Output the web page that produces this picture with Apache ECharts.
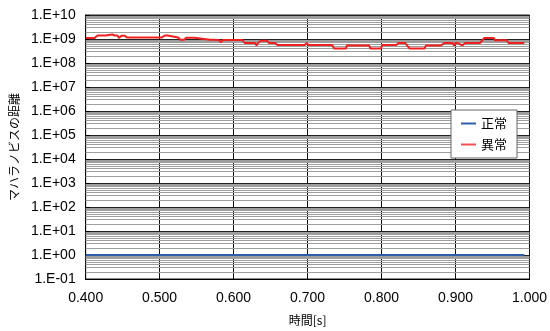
<!DOCTYPE html>
<html>
<head>
<meta charset="utf-8">
<script src="https://cdn.jsdelivr.net/npm/echarts@6/dist/echarts.min.js"></script>
<style>
  html, body { margin: 0; padding: 0; background: #fff; }
  #chart { width: 550px; height: 331px; }
</style>
</head>
<body>
<div id="chart"></div>
<script>
// 時間 [s] と マハラノビスの距離
const abnormalTime = [
  0.400, 0.412, 0.416, 0.427, 0.429, 0.436, 0.439, 0.443, 0.445, 0.448,
  0.453, 0.456, 0.499, 0.503, 0.507, 0.511, 0.513, 0.525, 0.528, 0.533,
  0.536, 0.547, 0.549, 0.568, 0.569, 0.571, 0.580, 0.583, 0.585, 0.612,
  0.615, 0.629, 0.631, 0.633, 0.637, 0.645, 0.648, 0.656, 0.659, 0.696,
  0.699, 0.701, 0.733, 0.736, 0.752, 0.753, 0.768, 0.769, 0.771, 0.783,
  0.785, 0.799, 0.801, 0.820, 0.823, 0.832, 0.838, 0.858, 0.860, 0.880,
  0.885, 0.896, 0.898, 0.900, 0.903, 0.909, 0.913, 0.933, 0.939, 0.952,
  0.953, 0.969, 0.972, 0.993
];
const abnormalValue = [
  1.1e9, 1.1e9, 1.4e9, 1.4e9, 1.55e9, 1.55e9, 1.4e9, 1.4e9, 1.1e9, 1.35e9,
  1.35e9, 1.16e9, 1.16e9, 1.16e9, 1.4e9, 1.4e9, 1.16e9, 1.16e9, 9.3e8, 9.3e8,
  1.12e9, 1.12e9, 9.3e8, 9.3e8, 1.1e9, 9.3e8, 9.1e8, 7.2e8, 9.1e8, 9.1e8,
  6.8e8, 6.8e8, 5.4e8, 6.8e8, 8.5e8, 8.5e8, 6.8e8, 6.8e8, 5.6e8, 5.6e8,
  6.8e8, 5.6e8, 5.6e8, 4.0e8, 4.0e8, 5.4e8, 5.4e8, 4.8e8, 5.4e8, 5.4e8,
  4.0e8, 4.0e8, 5.6e8, 5.6e8, 6.8e8, 6.8e8, 4.0e8, 4.0e8, 5.3e8, 5.3e8,
  6.8e8, 6.8e8, 5.4e8, 6.8e8, 6.8e8, 5.4e8, 6.8e8, 6.8e8, 1.1e9, 1.1e9,
  8.9e8, 8.9e8, 6.8e8, 6.8e8
];
const normalTime = [0.400, 0.500, 0.600, 0.700, 0.800, 0.900, 0.993];
const normalValue = [1.0, 1.0, 1.0, 1.0, 1.0, 1.0, 1.0];

const xTicks = { min: 0.4, max: 1.0, step: 0.1 };
const yDecades = { min: -1, max: 10 };
const minorFactors = [2, 3, 4, 5, 6, 7, 8, 9];

const FONT = '"Liberation Sans", Arial, sans-serif';
const JFONT = '"Noto Sans CJK JP", "Liberation Sans", sans-serif';

function pairs(t, v) { return t.map((x, i) => [x, v[i]]); }

function expLabel(v) {
  const e = Math.round(Math.log10(v));
  const s = e < 0 ? '-' : '+';
  const a = Math.abs(e);
  return '1.E' + s + (a < 10 ? '0' + a : '' + a);
}

// minor log gridlines at 2..9 × 10^n
const minorLines = [];
for (let n = yDecades.min; n < yDecades.max; n++) {
  minorFactors.forEach(k => minorLines.push({ yAxis: k * Math.pow(10, n) }));
}

const chart = echarts.init(document.getElementById('chart'), null, { renderer: 'canvas' });
chart.setOption({
  animation: false,
  backgroundColor: '#ffffff',
  grid: { left: 83, right: 17, top: 15, bottom: 49, show: true, borderColor: '#222', borderWidth: 1, backgroundColor: '#fff' },
  legend: {
    z: 20,
    orient: 'vertical',
    left: 451, top: 110,
    width: 66,
    padding: [7, 10, 7, 10],
    itemGap: 8,
    itemWidth: 15, itemHeight: 2,
    icon: 'rect',
    backgroundColor: '#fff',
    borderColor: '#666', borderWidth: 1,
    textStyle: { fontFamily: JFONT, fontSize: 13, color: '#000', lineHeight: 12 },
    data: ['正常', '異常']
  },
  xAxis: {
    type: 'value',
    min: xTicks.min, max: xTicks.max, interval: xTicks.step,
    name: '時間[s]',
    nameLocation: 'middle', nameGap: 35,
    nameTextStyle: { fontFamily: JFONT, fontSize: 12, color: '#000' },
    axisLine: { lineStyle: { color: '#000', width: 1 } },
    axisTick: { show: false },
    axisLabel: { fontFamily: FONT, fontSize: 14, color: '#000', margin: 12, formatter: v => v.toFixed(3) },
    splitLine: { show: true, lineStyle: { color: '#111', width: 1 } }
  },
  yAxis: {
    type: 'log', logBase: 10,
    min: Math.pow(10, yDecades.min), max: Math.pow(10, yDecades.max),
    interval: 1,
    name: 'マハラノビスの距離',
    nameLocation: 'middle', nameGap: 64, nameRotate: 90,
    nameTextStyle: { fontFamily: JFONT, fontSize: 12, color: '#000' },
    axisLine: { show: true, lineStyle: { color: '#000', width: 1 } },
    axisTick: { show: true, inside: true, length: 4, lineStyle: { color: '#000' } },
    axisLabel: { fontFamily: FONT, fontSize: 14, color: '#000', margin: 10, formatter: expLabel },
    splitLine: { show: true, lineStyle: { color: '#222', width: 1 } }
  },
  series: [
    {
      name: 'grid-minor', type: 'line', data: [], silent: true, z: 1,
      markLine: {
        z: 1,
        silent: true, symbol: ['none', 'none'], label: { show: false },
        lineStyle: { color: '#9e9e9e', width: 1, type: 'solid' },
        emphasis: { disabled: true },
        data: minorLines
      }
    },
    {
      name: '正常', type: 'line', data: pairs(normalTime, normalValue), z: 5,
      showSymbol: false, symbol: 'none',
      lineStyle: { color: '#2f5ea8', width: 2 }, itemStyle: { color: '#2f5ea8' }
    },
    {
      name: '異常', type: 'line', data: pairs(abnormalTime, abnormalValue), z: 5,
      showSymbol: false, symbol: 'none',
      lineStyle: { color: '#f02020', width: 2 }, itemStyle: { color: '#f05050' }
    }
  ]
});
</script>
</body>
</html>
